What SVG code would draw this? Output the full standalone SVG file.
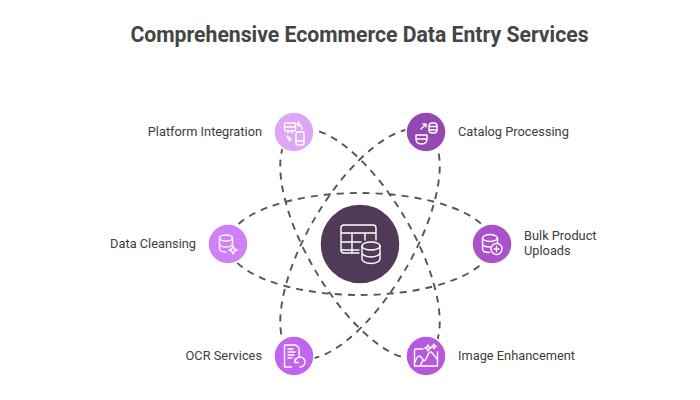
<svg xmlns="http://www.w3.org/2000/svg" width="700" height="400" viewBox="0 0 700 400">
<style>
.t{font-family:Roboto,"Liberation Sans",sans-serif;font-size:12.8px;fill:#3d3d3d}
.h{font-family:Roboto,"Liberation Sans",sans-serif;font-size:21.2px;font-weight:700;fill:#454545}
.c{fill:none;stroke:#555;stroke-width:1.9;stroke-dasharray:7 6}
.n{stroke:#fff;stroke-width:1.5}
.i{fill:none;stroke:#fff;stroke-width:1.4;stroke-linecap:round;stroke-linejoin:round}
</style>
<rect width="700" height="400" fill="#fff"/>
<text class="h" x="359.500" y="42" text-anchor="middle">Comprehensive Ecommerce Data Entry Services</text>
<g id="connectors">
<ellipse class="c" cx="360" cy="244" rx="132" ry="51"/>
<ellipse class="c" cx="360" cy="244" rx="130" ry="52" transform="rotate(59.500 360 244)"/>
<ellipse class="c" cx="360" cy="244" rx="130" ry="52" transform="rotate(-59.500 360 244)"/>
</g>
<g id="center">
<circle class="n" cx="360" cy="244" r="40" fill="#503a58"/>
<g class="i" transform="translate(341,225)">
<path d="M18 28H3a3 3 0 0 1-3-3V3a3 3 0 0 1 3-3H32a3 3 0 0 1 3 3V15M0 8H35M0 17H20M0 25H18M11 8V28M24 8V15"/>
<ellipse cx="30" cy="21" rx="9" ry="4" fill="#503a58"/>
<path d="M21 21V34c0 2.500 4 4.500 9 4.500s9-2 9-4.500V21M21 27.500c0 2.500 4 4.500 9 4.500s9-2 9-4.500"/>
</g>
</g>
<g id="platform-integration">
<circle class="n" cx="294" cy="132" r="20" fill="#e0a6f6"/>
<g class="i">
<rect x="284.500" y="123" width="11" height="8" rx="1.500"/><path d="M284.500 127H295.500M288 131v2M292 131v2"/>
<rect x="296" y="132" width="8" height="13" rx="1.500"/><path d="M296 141H304"/>
<path d="M299 122l-2 2 2 2M297 124c4 0 5 2 5 5M289 137l2 2-2 2M291 139c-3 0-4-1-4-3"/>
</g>
<text class="t" x="262" y="136.300" text-anchor="end">Platform Integration</text>
</g>
<g id="catalog-processing">
<circle class="n" cx="426" cy="132" r="20" fill="#9448b2"/>
<g class="i">
<rect x="429" y="123" width="8" height="10" rx="3"/><path d="M429 126.500h8M429 130h8"/>
<path d="M416 135h11M416 135v4c0 3 2 5 5.500 5s5.500-2 5.500-5v-4M416 139h11"/>
<path d="M421 129l5-5M423 124h3v3"/>
</g>
<text class="t" x="458" y="136.300">Catalog Processing</text>
</g>
<g id="data-cleansing">
<circle class="n" cx="228" cy="244" r="20" fill="#d17ff7"/>
<g class="i">
<ellipse cx="226" cy="238" rx="6.500" ry="3"/>
<path d="M219.500 238v11c0 1.700 3 3 6.500 3M219.500 244c0 1.700 3 3 6.500 3s6.500-1.300 6.500-3V238"/>
<path d="M233 246l1.200 2.800 2.800 1.200-2.800 1.200-1.200 2.800-1.200-2.800-2.800-1.200 2.800-1.200z"/>
</g>
<text class="t" x="196" y="248.300" text-anchor="end">Data Cleansing</text>
</g>
<g id="bulk-product-uploads">
<circle class="n" cx="492" cy="244" r="20" fill="#a953cb"/>
<g class="i">
<ellipse cx="490" cy="238" rx="7.500" ry="3.500"/>
<path d="M482.500 238v11c0 2 3 3.500 7 3.500M482.500 243.500c0 2 3 3.500 7.500 3.500M497.500 238v5"/>
<circle cx="496.500" cy="249" r="5.500"/><path d="M496.500 246.500v5M494 249h5"/>
</g>
<text class="t" x="524" y="240.300">Bulk Product</text>
<text class="t" x="524" y="255.300">Uploads</text>
</g>
<g id="ocr-services">
<circle class="n" cx="294" cy="356" r="20" fill="#c265ee"/>
<g class="i">
<path d="M299 357v-9l-3-3H284.500v22h7"/>
<path d="M288 349h5M288 352h7M288 355h6M288 358h4"/>
<path d="M295 362a5 5 0 1 1 5 5M295 359v3.500h3.500"/>
</g>
<text class="t" x="262" y="360.300" text-anchor="end">OCR Services</text>
</g>
<g id="image-enhancement">
<circle class="n" cx="426" cy="356" r="20" fill="#b659de"/>
<g class="i">
<path d="M423 349h-7.500a1 1 0 0 0-1 1V366h23V352"/>
<path d="M415 362c2-6 4-7 6-5s3 6 5 2 3-8 5-7 4 5 6 7M421 366c0-3 1-5 3-6"/>
<path d="M428 345l1 2 2 1-2 1-1 2-1-2-2-1 2-1zM434 344l.8 1.500 1.500.8-1.500.8-.8 1.500-.8-1.500-1.500-.8 1.500-.8z"/>
</g>
<text class="t" x="458" y="360.300">Image Enhancement</text>
</g>
</svg>
